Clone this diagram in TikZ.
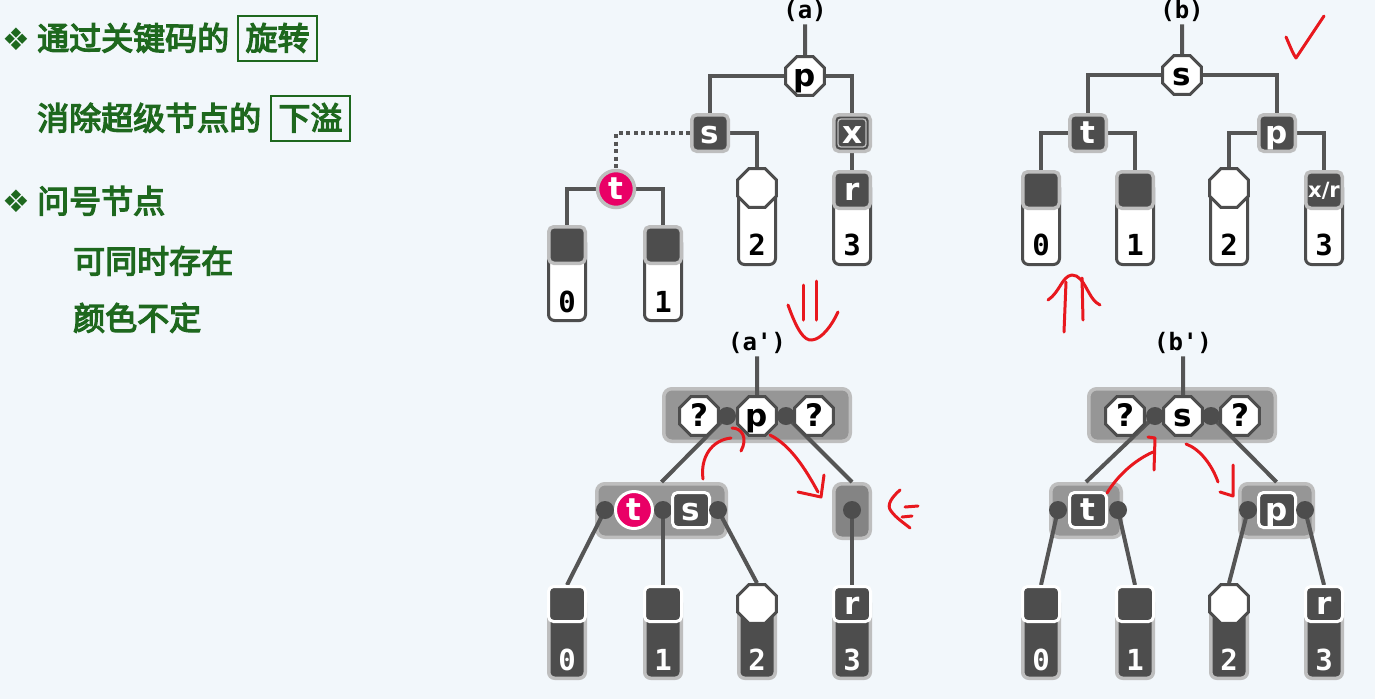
\documentclass[tikz,border=0pt]{standalone}
\usepackage{fontspec}
\usetikzlibrary{shapes.geometric}
\newfontfamily\mycjk[FakeBold=4]{Noto Sans CJK SC}
\newfontfamily\mysans{DejaVu Sans}
\newfontfamily\mymono{DejaVu Sans Mono}
\newfontfamily\mysym{DejaVu Sans}
\definecolor{bgc}{RGB}{242,247,251}
\definecolor{ink}{RGB}{77,77,77}
\definecolor{edgec}{RGB}{85,85,85}
\definecolor{rim}{RGB}{190,190,190}
\definecolor{blkc}{RGB}{150,150,150}
\definecolor{blkd}{RGB}{132,132,132}
\definecolor{pinkc}{RGB}{233,0,102}
\definecolor{grn}{RGB}{30,104,30}
\definecolor{pen}{RGB}{232,24,30}
\pgfdeclarelayer{bgfill}
\pgfdeclarelayer{blocks}
\pgfdeclarelayer{edges}
\pgfsetlayers{bgfill,blocks,edges,main}
\tikzset{
 lnk/.style={draw=edgec, line width=4pt},
 dotlnk/.style={draw=edgec, line width=4pt, dash pattern=on 4pt off 3.5pt},
 lett/.style={font=\mysans\bfseries\fontsize{31}{31}\selectfont, text height=21pt, text depth=0pt},
 sqn/.style={lett, draw=rim, line width=3.5pt, fill=ink, rounded corners=5pt, minimum width=36.5pt, minimum height=36.5pt, inner sep=0pt, text=white},
 sqw/.style={sqn, draw=white, line width=3pt, minimum width=37pt, minimum height=35pt},
 octn/.style={lett, regular polygon, regular polygon sides=8, draw=ink, line width=3pt, fill=white, minimum size=42pt, inner sep=0pt, text=black},
 pnk/.style={lett, circle, fill=pinkc, draw=rim, line width=3.5pt, minimum size=37pt, inner sep=0pt, text=white},
 pnkw/.style={pnk, draw=white, line width=3pt},
 dotn/.style={circle, fill=ink, minimum size=18pt, inner sep=0pt},
 colw/.style={draw=ink, line width=3pt, fill=white, rounded corners=6pt, minimum width=37pt, inner sep=0pt},
 cold/.style={draw=rim, line width=3.5pt, fill=ink, rounded corners=6pt, minimum width=36.5pt, inner sep=0pt},
 blk/.style={draw=rim, line width=3.5pt, fill=blkc, rounded corners=8pt, inner sep=0pt},
 digb/.style={anchor=base, font=\mymono\bfseries\fontsize{29}{29}\selectfont, text=black, inner sep=0pt},
 digw/.style={digb, text=white},
 labn/.style={anchor=base, font=\mymono\bfseries\fontsize{24}{24}\selectfont, inner sep=3pt},
 cjkt/.style={anchor=base west, font=\mycjk\fontsize{32}{32}\selectfont, text=grn, inner sep=0pt},
 kbox/.style={anchor=base, draw=grn, line width=2pt, font=\mycjk\fontsize{32}{32}\selectfont, text=grn, minimum width=79pt, minimum height=45pt, text height=24pt, text depth=0pt, inner sep=0pt},
 bul/.style={font=\mysym\fontsize{31}{31}\selectfont, text=grn, inner sep=0pt},
 penl/.style={draw=pen, line width=3pt, line cap=round, line join=round},
}
\begin{document}
\begin{tikzpicture}[x=1pt,y=-1pt]
\begin{pgfonlayer}{bgfill}
\fill[bgc] (0,0) rectangle (1375,699);
\end{pgfonlayer}
\useasboundingbox (0,0) rectangle (1375,699);

% ---------------- left text ----------------
\node[bul] (b1) at (16,39) {❖};
\node[cjkt] (t1) at (37,50) {通过关键码的};
\node[kbox] (k1) at (277.5,50) {旋转};
\node[cjkt] (t2) at (37,130) {消除超级节点的};
\node[kbox] (k2) at (310.5,130) {下溢};
\node[bul] (b2) at (16,201) {❖};
\node[cjkt] (t3) at (37,213) {问号节点};
\node[cjkt] (t4) at (73,273) {可同时存在};
\node[cjkt] (t5) at (73,330) {颜色不定};

% ---------------- tree (a) ----------------
\node[labn] (labA) at (805,18) {(a)};
\node[octn] (pA) at (805,76) {p};
\node[sqn] (sA) at (710,133) {s};
\node[sqn] (xA) at (852,133) {x};
\draw[rim, line width=1.3pt, rounded corners=3pt] ([shift={(6,6)}]xA.north west) rectangle ([shift={(-6,-6)}]xA.south east);
\node[pnk] (tA) at (616,189) {t};
\node[colw, minimum height=84pt] (c0A) at (567,278.5) {};
\node[sqn] (l0A) at (567,245) {};
\node[colw, minimum height=84pt] (c1A) at (663,278.5) {};
\node[sqn] (l1A) at (663,245) {};
\node[colw, minimum height=75pt] (c2A) at (757,227) {};
\node[octn] (l2A) at (757,188) {};
\node[colw, minimum height=83pt] (c3A) at (852,223) {};
\node[sqn] (l3A) at (852,190) {r};
\node[digb] (n0A) at (567,312) {0};
\node[digb] (n1A) at (663,312) {1};
\node[digb] (n2A) at (757,255) {2};
\node[digb] (n3A) at (852,255) {3};
\begin{pgfonlayer}{edges}
\draw[lnk] (labA) -- (pA);
\draw[lnk] (pA.west) -| (sA.north);
\draw[lnk] (pA.east) -| (xA.north);
\draw[lnk] (sA.east) -| (l2A.north);
\draw[dotlnk] (sA.west) -| (tA.north);
\draw[lnk] (tA.west) -| (l0A.north);
\draw[lnk] (tA.east) -| (l1A.north);
\draw[lnk] (xA.south) -- (l3A.north);
\end{pgfonlayer}

% ---------------- tree (b) ----------------
\node[labn] (labB) at (1182,18) {(b)};
\node[octn] (sB) at (1182,75) {s};
\node[sqn] (tB) at (1088,133) {t};
\node[sqn] (pB) at (1277,133) {p};
\node[colw, minimum height=83pt] (c0B) at (1041,223) {};
\node[sqn] (l0B) at (1041,190) {};
\node[colw, minimum height=83pt] (c1B) at (1135,223) {};
\node[sqn] (l1B) at (1135,190) {};
\node[colw, minimum height=75pt] (c2B) at (1229,227) {};
\node[octn] (l2B) at (1229,188) {};
\node[colw, minimum height=83pt] (c3B) at (1324,223) {};
\node[sqn, font=\mysans\bfseries\fontsize{21}{21}\selectfont, text height=15pt] (l3B) at (1324,190) {x/r};
\node[digb] (n0B) at (1041,255) {0};
\node[digb] (n1B) at (1135,255) {1};
\node[digb] (n2B) at (1229,255) {2};
\node[digb] (n3B) at (1324,255) {3};
\begin{pgfonlayer}{edges}
\draw[lnk] (labB) -- (sB);
\draw[lnk] (sB.west) -| (tB.north);
\draw[lnk] (sB.east) -| (pB.north);
\draw[lnk] (tB.west) -| (l0B.north);
\draw[lnk] (tB.east) -| (l1B.north);
\draw[lnk] (pB.west) -| (l2B.north);
\draw[lnk] (pB.east) -| (l3B.north);
\end{pgfonlayer}

% ---------------- tree (a') ----------------
\begin{pgfonlayer}{blocks}
\node[blk, minimum width=186.5pt, minimum height=52.5pt] (uA2) at (757,415) {};
\node[blk, minimum width=129.5pt, minimum height=53.5pt] (bLA2) at (661.5,510.5) {};
\node[blk, fill=blkd, minimum width=36.5pt, minimum height=54.5pt] (bRA2) at (852,511) {};
\end{pgfonlayer}
\node[labn] (labA2) at (757,350) {(a')};
\node[octn] (q1A2) at (699,416) {?};
\node[octn] (pA2) at (757,416) {p};
\node[octn] (q2A2) at (814,416) {?};
\node[dotn] (d1A2) at (727,416) {};
\node[dotn] (d2A2) at (786,416) {};
\node[dotn] (e1A2) at (605,510) {};
\node[pnkw] (tA2) at (634,510) {t};
\node[dotn] (e2A2) at (663,510) {};
\node[sqw] (sA2) at (691,510) {s};
\node[dotn] (e3A2) at (718,510) {};
\node[dotn] (e4A2) at (852,510) {};
\node[cold, minimum height=81.5pt] (c0A2) at (567,637.5) {};
\node[sqw] (l0A2) at (567,604) {};
\node[cold, minimum height=81.5pt] (c1A2) at (663,637.5) {};
\node[sqw] (l1A2) at (663,604) {};
\node[cold, minimum height=81.5pt] (c2A2) at (757,637.5) {};
\node[octn] (l2A2) at (757,604) {};
\node[cold, minimum height=81.5pt] (c3A2) at (852,637.5) {};
\node[sqw] (l3A2) at (852,604) {r};
\node[digw] (n0A2) at (567,670) {0};
\node[digw] (n1A2) at (663,670) {1};
\node[digw] (n2A2) at (757,670) {2};
\node[digw] (n3A2) at (852,670) {3};
\begin{pgfonlayer}{edges}
\draw[lnk] (labA2) -- (pA2);
\draw[lnk] (d1A2.center) -- (bLA2.north);
\draw[lnk] (d2A2.center) -- (bRA2.north);
\draw[lnk] (e1A2.center) -- (l0A2.north);
\draw[lnk] (e2A2.center) -- (l1A2.north);
\draw[lnk] (e3A2.center) -- (l2A2.north);
\draw[lnk] (e4A2.center) -- (l3A2.north);
\end{pgfonlayer}

% ---------------- tree (b') ----------------
\begin{pgfonlayer}{blocks}
\node[blk, minimum width=186.5pt, minimum height=52.5pt] (uB2) at (1182,415) {};
\node[blk, minimum width=70.5pt, minimum height=53.5pt] (bLB2) at (1086,510.5) {};
\node[blk, minimum width=73.5pt, minimum height=53.5pt] (bRB2) at (1276.5,510.5) {};
\end{pgfonlayer}
\node[labn] (labB2) at (1183,350) {(b')};
\node[octn] (q1B2) at (1125,416) {?};
\node[octn] (sB2) at (1183,416) {s};
\node[octn] (q2B2) at (1240,416) {?};
\node[dotn] (d1B2) at (1155,416) {};
\node[dotn] (d2B2) at (1211,416) {};
\node[dotn] (e1B2) at (1058,510) {};
\node[sqw] (tB2) at (1088,510) {t};
\node[dotn] (e2B2) at (1118,510) {};
\node[dotn] (e3B2) at (1248,510) {};
\node[sqw] (pB2) at (1277,510) {p};
\node[dotn] (e4B2) at (1305,510) {};
\node[cold, minimum height=81.5pt] (c0B2) at (1041,637.5) {};
\node[sqw] (l0B2) at (1041,604) {};
\node[cold, minimum height=81.5pt] (c1B2) at (1135,637.5) {};
\node[sqw] (l1B2) at (1135,604) {};
\node[cold, minimum height=81.5pt] (c2B2) at (1229,637.5) {};
\node[octn] (l2B2) at (1229,604) {};
\node[cold, minimum height=81.5pt] (c3B2) at (1324,637.5) {};
\node[sqw] (l3B2) at (1324,604) {r};
\node[digw] (n0B2) at (1041,670) {0};
\node[digw] (n1B2) at (1135,670) {1};
\node[digw] (n2B2) at (1229,670) {2};
\node[digw] (n3B2) at (1324,670) {3};
\begin{pgfonlayer}{edges}
\draw[lnk] (labB2) -- (sB2);
\draw[lnk] (d1B2.center) -- (bLB2.north);
\draw[lnk] (d2B2.center) -- (bRB2.north);
\draw[lnk] (e1B2.center) -- (l0B2.north);
\draw[lnk] (e2B2.center) -- (l1B2.north);
\draw[lnk] (e3B2.center) -- (l2B2.north);
\draw[lnk] (e4B2.center) -- (l3B2.north);
\end{pgfonlayer}

% ---------------- red pen marks ----------------
\draw[penl] (803,285) -- (803,320);
\draw[penl] (816,281) -- (816,320);
\draw[penl] (788,305) .. controls (797,330) and (804,341) .. (812,340) .. controls (822,339) and (832,325) .. (838,312);
\draw[penl] (1064,332) -- (1066,282);
\draw[penl] (1083,320) -- (1082,278);
\draw[penl] (1048,300) .. controls (1060,292) and (1062,276) .. (1072,275) .. controls (1085,275) and (1088,300) .. (1100,305);
\draw[penl] (1286,37) .. controls (1290,46) and (1293,54) .. (1296,58) -- (1324,16);
\draw[penl] (703,479) .. controls (700,457) and (712,440) .. (731,438);
\draw[penl] (732,428) .. controls (742,428) and (748,438) .. (741,451);
\draw[penl] (770,435) .. controls (790,445) and (805,468) .. (818,492);
\draw[penl] (798,492) -- (821,497) -- (824,475);
\draw[penl] (900,490) .. controls (892,497) and (886,505) .. (891,511) .. controls (896,518) and (904,523) .. (910,528);
\draw[penl] (905,507) -- (918,506);
\draw[penl] (902,517) -- (912,516);
\draw[penl] (1107,493) .. controls (1118,475) and (1135,460) .. (1153,452);
\draw[penl] (1148,437) -- (1155,438) -- (1154,470);
\draw[penl] (1186,444) .. controls (1200,449) and (1212,465) .. (1218,482);
\draw[penl] (1233,465) -- (1233,496) -- (1220,492);
\end{tikzpicture}
\end{document}
